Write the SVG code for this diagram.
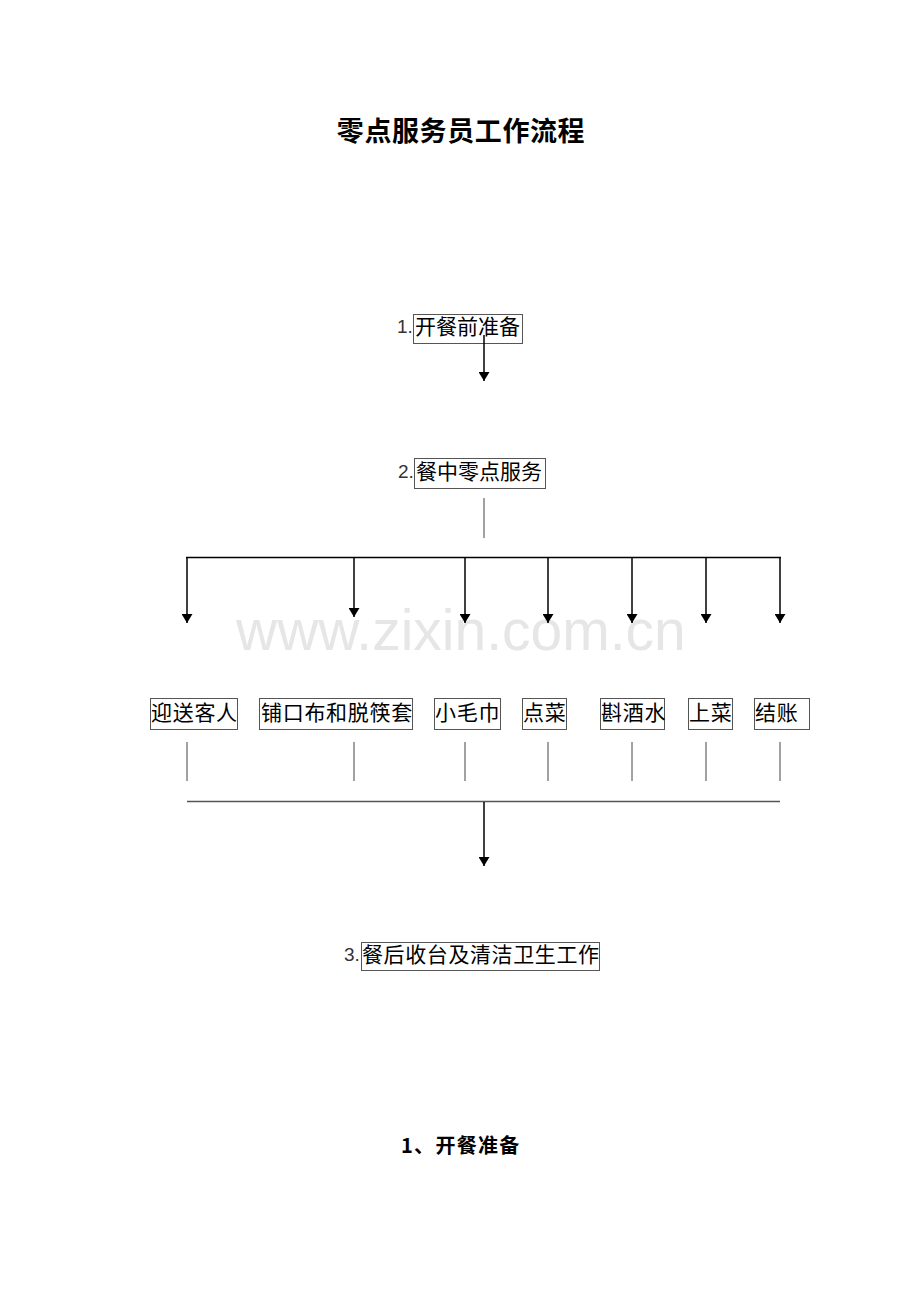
<svg xmlns="http://www.w3.org/2000/svg" width="920" height="1302" viewBox="0 0 920 1302">
<style>
.t{font-family:"Liberation Sans","Noto Sans CJK SC",sans-serif;font-size:21px;fill:#000}
.n{font-family:"Liberation Sans","Noto Sans CJK SC",sans-serif;font-size:19px;fill:#333}
.b{fill:#fff;stroke:#555;stroke-width:1}
.c{stroke:#000;stroke-width:1.5;fill:none}
.g{stroke:#444;stroke-width:1;fill:none}
.wm{font-family:"Liberation Sans",Arial,sans-serif;font-size:57px;fill:#e6e6e6}
.h{font-family:"Noto Sans CJK SC",sans-serif;font-weight:bold;fill:#000}
</style>
<defs>
<marker id="ah" markerWidth="10" markerHeight="11" refX="9" refY="5.5" orient="auto" markerUnits="userSpaceOnUse">
<path d="M0,0 L9,5.5 L0,11 Z" fill="#000"/>
</marker>
</defs>
<rect width="920" height="1302" fill="#fff"/>
<text x="236" y="650" class="wm">www.zixin.com.cn</text>
<text x="461" y="141" class="h" font-size="27" letter-spacing="0.6" text-anchor="middle">零点服务员工作流程</text>

<g id="n1">
<text x="397" y="333" class="n">1.</text>
<rect x="413.5" y="314.5" width="109" height="29" class="b"/>
<text x="415" y="334" class="t">开餐前准备</text>
</g>
<g id="n2">
<text x="398" y="478" class="n">2.</text>
<rect x="414.5" y="458.5" width="131" height="30" class="b"/>
<text x="416" y="479" class="t">餐中零点服务</text>
</g>
<g id="s1"><rect x="150.5" y="698.5" width="87" height="31" class="b"/><text x="151" y="720" class="t" letter-spacing="0.7">迎送客人</text></g>
<g id="s2"><rect x="259.5" y="698.5" width="153" height="31" class="b"/><text x="261" y="720" class="t" letter-spacing="0.7">铺口布和脱筷套</text></g>
<g id="s3"><rect x="434.5" y="698.5" width="66" height="31" class="b"/><text x="435" y="720" class="t" letter-spacing="0.7">小毛巾</text></g>
<g id="s4"><rect x="522.5" y="698.5" width="44" height="31" class="b"/><text x="523" y="720" class="t" letter-spacing="0.7">点菜</text></g>
<g id="s5"><rect x="600.5" y="698.5" width="64" height="31" class="b"/><text x="601" y="720" class="t" letter-spacing="0.7">斟酒水</text></g>
<g id="s6"><rect x="688.5" y="698.5" width="44" height="31" class="b"/><text x="689" y="720" class="t" letter-spacing="0.7">上菜</text></g>
<g id="s7"><rect x="754.5" y="698.5" width="55" height="31" class="b"/><text x="755" y="720" class="t" letter-spacing="0.7">结账</text></g>
<g id="n3">
<text x="344" y="961" class="n">3.</text>
<rect x="361.5" y="942.5" width="238" height="28" class="b"/>
<text x="362" y="962" class="t" letter-spacing="0.6">餐后收台及清洁卫生工作</text>
</g>
<text x="401" y="1153" class="h" font-size="20" letter-spacing="1.3">1、开餐准备</text>

<g id="connectors">
<line x1="484" y1="335" x2="484" y2="381" class="c" marker-end="url(#ah)"/>
<line x1="484" y1="498" x2="484" y2="538" class="g"/>
<line x1="186" y1="557.5" x2="781" y2="557.5" class="c"/>
<line x1="187" y1="557" x2="187" y2="623" class="c" marker-end="url(#ah)"/>
<line x1="354" y1="557" x2="354" y2="617" class="c" marker-end="url(#ah)"/>
<line x1="465" y1="557" x2="465" y2="623" class="c" marker-end="url(#ah)"/>
<line x1="548" y1="557" x2="548" y2="623" class="c" marker-end="url(#ah)"/>
<line x1="632" y1="557" x2="632" y2="623" class="c" marker-end="url(#ah)"/>
<line x1="706" y1="557" x2="706" y2="623" class="c" marker-end="url(#ah)"/>
<line x1="780" y1="557" x2="780" y2="623" class="c" marker-end="url(#ah)"/>
<line x1="187" y1="742" x2="187" y2="781" class="g"/>
<line x1="354" y1="742" x2="354" y2="781" class="g"/>
<line x1="465" y1="742" x2="465" y2="781" class="g"/>
<line x1="548" y1="742" x2="548" y2="781" class="g"/>
<line x1="632" y1="742" x2="632" y2="781" class="g"/>
<line x1="706" y1="742" x2="706" y2="781" class="g"/>
<line x1="780" y1="742" x2="780" y2="781" class="g"/>
<line x1="187" y1="801.5" x2="780" y2="801.5" stroke="#555" stroke-width="1.5"/>
<line x1="484" y1="802" x2="484" y2="866" class="c" marker-end="url(#ah)"/>
</g>
</svg>
